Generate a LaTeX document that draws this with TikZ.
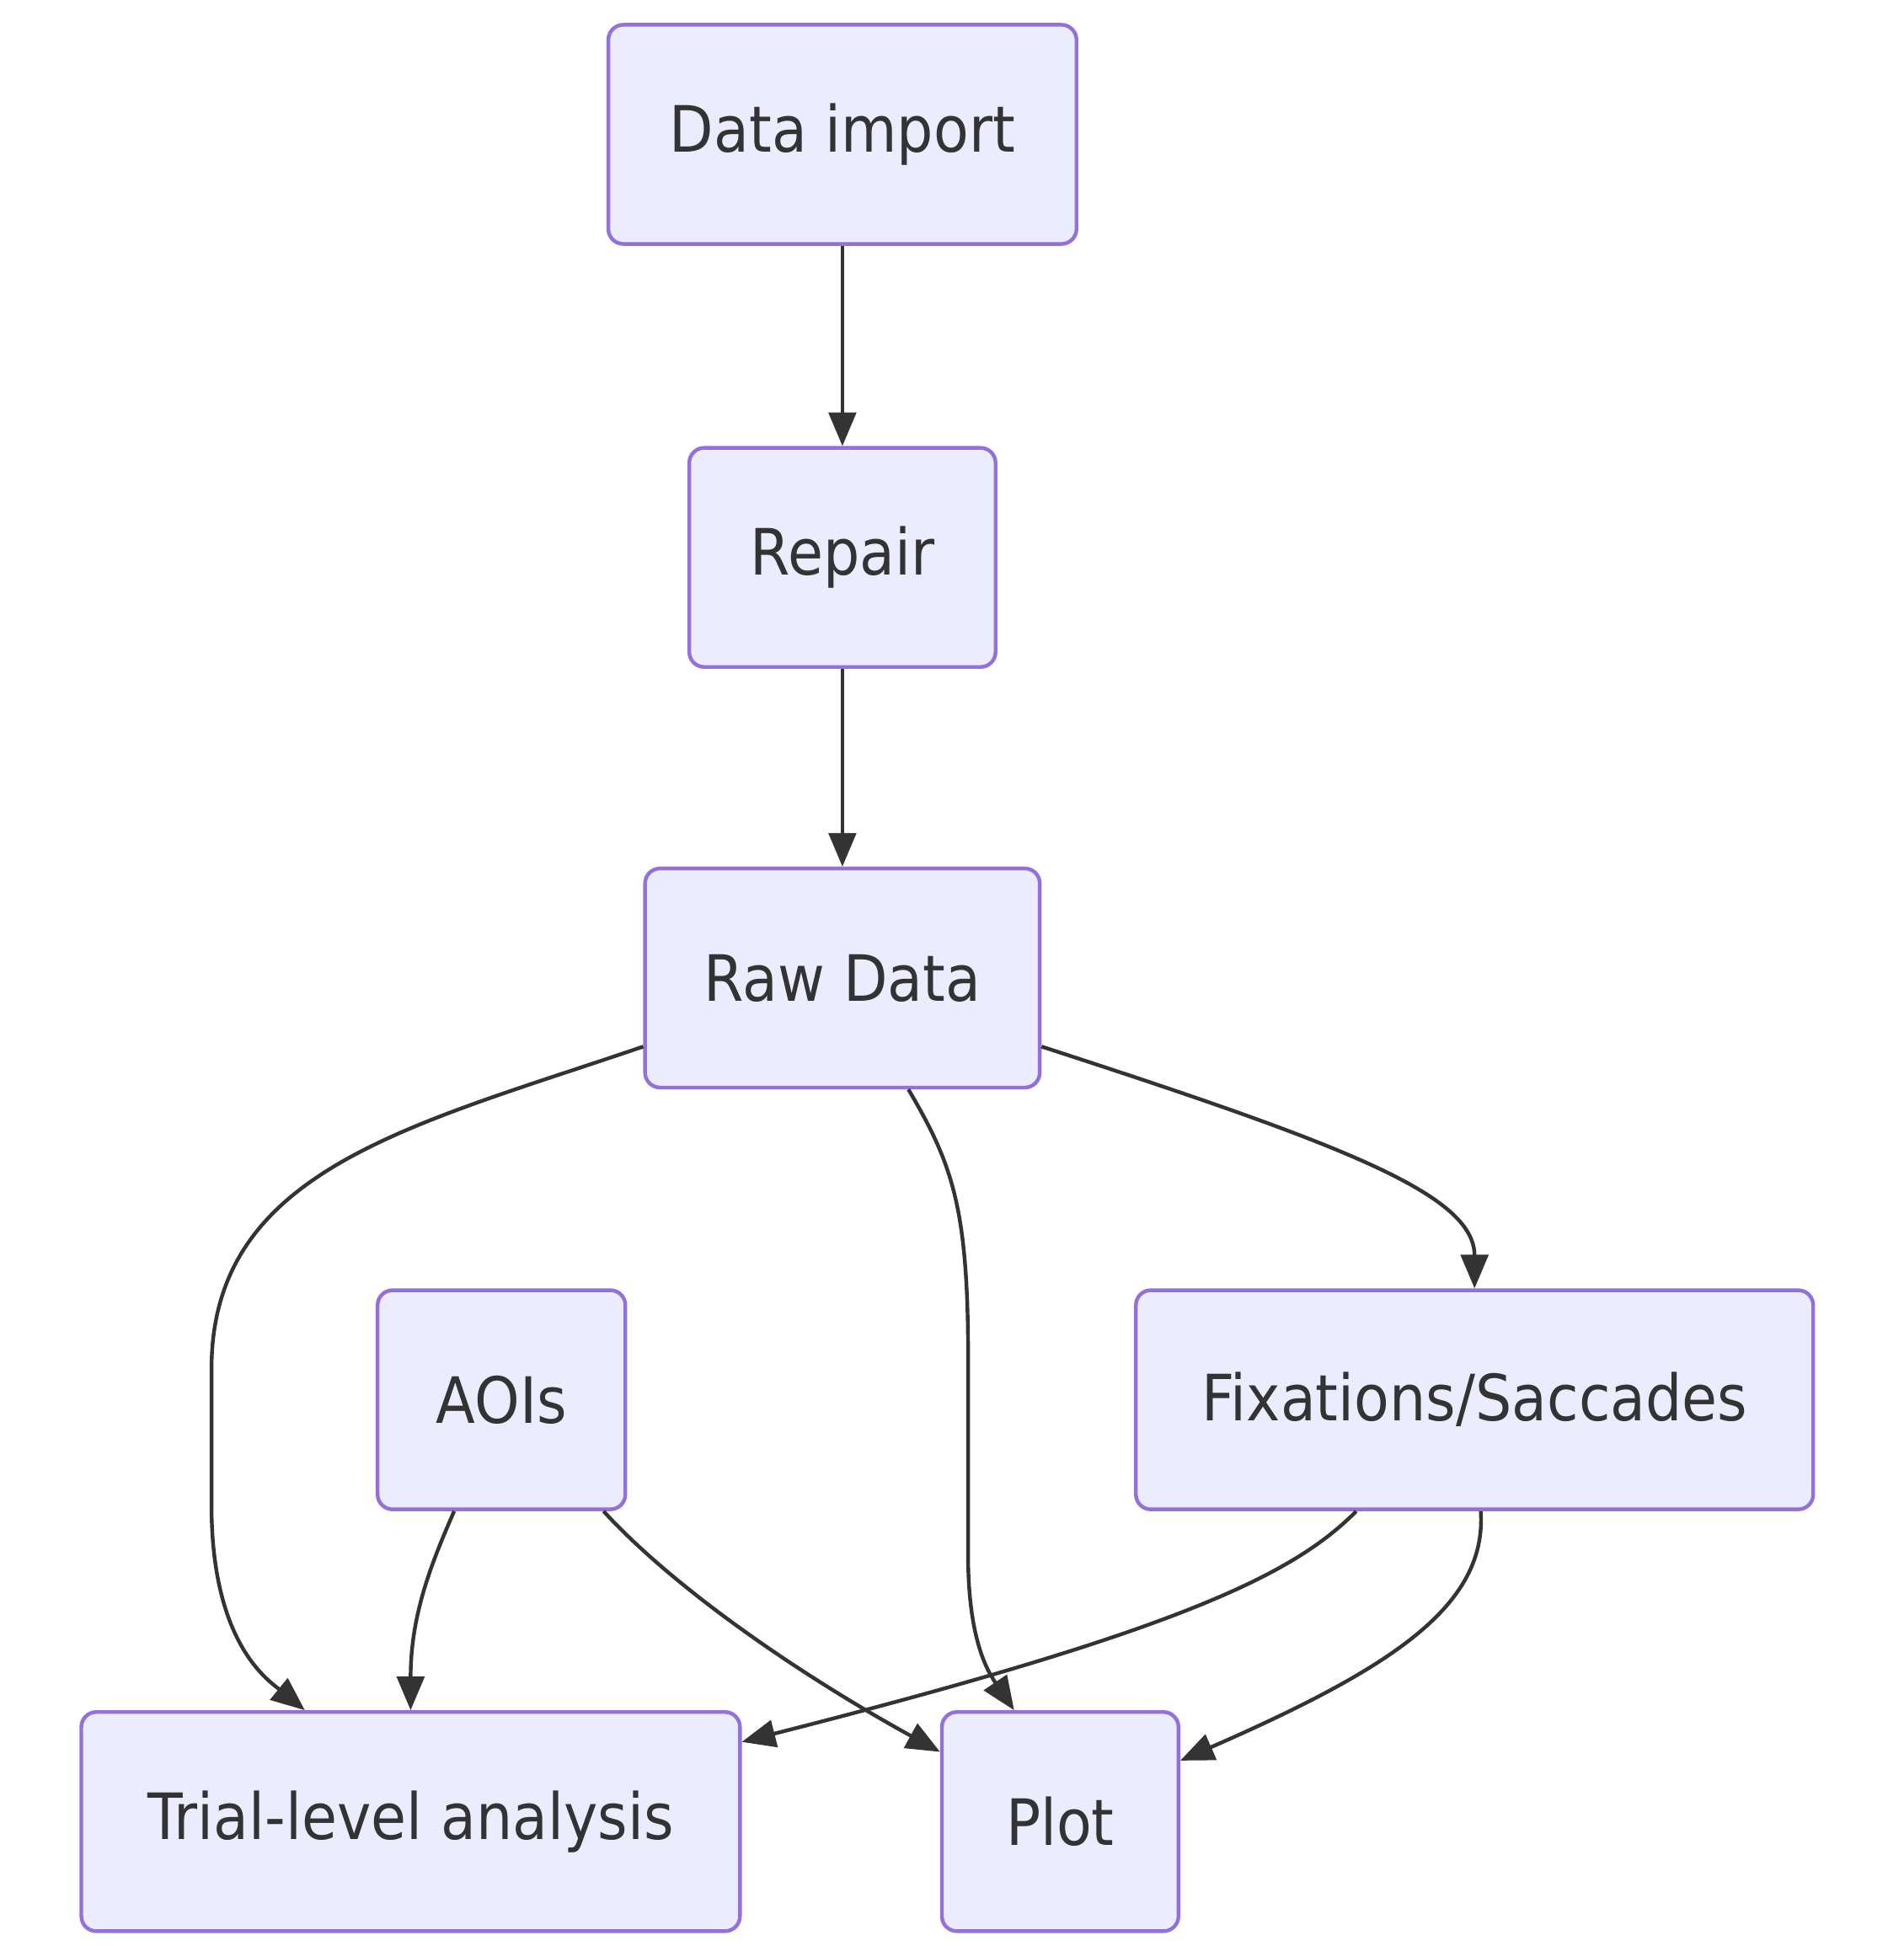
\documentclass[tikz,border=0pt]{standalone}
\usepackage{fontspec}
\setmainfont{DejaVu Sans}[FakeStretch=0.9]
\usetikzlibrary{arrows.meta}
\definecolor{boxfill}{HTML}{ECECFF}
\definecolor{boxline}{HTML}{9370DB}
\definecolor{ink}{HTML}{333333}
\begin{document}
\begin{tikzpicture}[
		x=0.01cm, y=-0.01cm,
		box/.style = {draw=boxline, fill=boxfill, line width=0.85pt, rounded corners=0.12cm,
				minimum height=1.76cm, text=ink, font=\fontsize{14.6pt}{17pt}\selectfont},
		flow/.style = {draw=ink, line width=0.85pt, -{Triangle[length=0.27cm, width=0.22cm]}},
	]
	\path[use as bounding box] (0,0) rectangle (1530,1564);
	\node[box, minimum width=3.76cm] (import) at (677,108) {Data import};
	\node[box, minimum width=2.46cm] (repair) at (677,448) {Repair};
	\node[box, minimum width=3.17cm] (raw) at (677,786) {Raw Data};
	\node[box, minimum width=1.99cm] (aois) at (403,1125) {AOIs};
	\node[box, minimum width=5.44cm] (fix) at (1185,1125) {Fixations/Saccades};
	\node[box, minimum width=5.29cm] (trial) at (330,1464) {Trial-level analysis};
	\node[box, minimum width=1.90cm] (plot) at (852,1464) {Plot};
	\draw[flow] (import) -- (repair);
	\draw[flow] (repair) -- (raw);
	\draw[flow] (raw.199) .. controls (330,905) and (170,940) .. (170,1100) -- (170,1210)
		.. controls (170,1320) and (215,1350) .. ([xshift=-0.85cm]trial.north);
	\draw[flow] ([xshift=0.53cm]raw.south) .. controls (765,935) and (778,970) .. (778,1090) -- (778,1250)
		.. controls (778,1320) and (795,1345) .. ([xshift=-0.37cm]plot.north);
	\draw[flow] (raw.341) .. controls (1080,920) and (1185,960) .. (fix.north);
	\draw[flow] ([xshift=-0.38cm]aois.south) .. controls (345,1260) and (330,1300) .. (trial.north);
	\draw[flow] ([xshift=0.82cm]aois.south) .. controls (545,1280) and (650,1350) .. ([yshift=0.56cm]plot.west);
	\draw[flow] ([xshift=-0.95cm]fix.south) .. controls (1040,1265) and (950,1310) .. ([yshift=0.64cm]trial.east);
	\draw[flow] ([xshift=0.05cm]fix.south) .. controls (1195,1290) and (1120,1340) .. ([yshift=0.49cm]plot.east);
\end{tikzpicture}
\end{document}
